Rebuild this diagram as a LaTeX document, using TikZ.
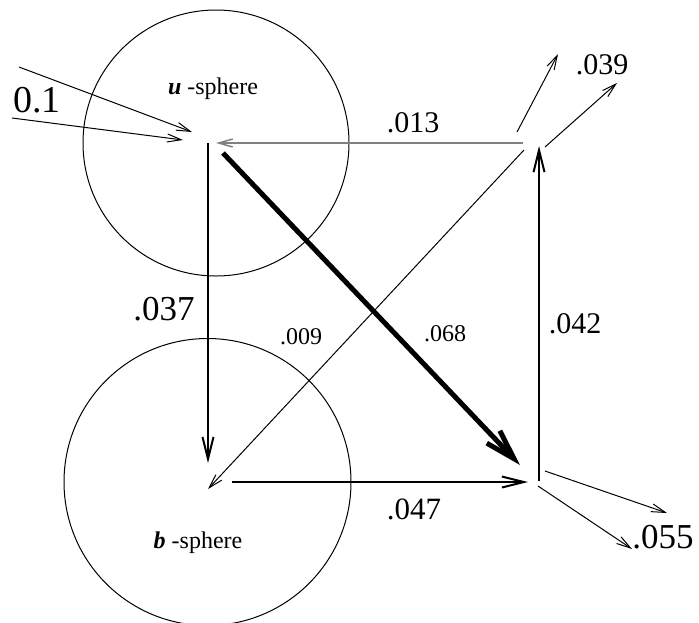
\documentclass[tikz,border=0pt]{standalone}
\usepackage{fontspec}
\setmainfont{Liberation Serif}
\usetikzlibrary{arrows.meta}
\newcommand{\fs}[1]{\fontsize{#1}{#1}\selectfont}
\begin{document}
\begin{tikzpicture}[x=1pt,y=-1pt,
  thinarr/.style={line width=1pt,-{Straight Barb[length=14pt,width=8pt]}},
  medarr/.style={line width=2pt,-{Straight Barb[length=22pt,width=11pt]}},
  thickarr/.style={line width=5pt,-{Straight Barb[length=30pt,width=18pt]}},
  lbl/.style={inner sep=0pt,anchor=center}]
\useasboundingbox (0,0) rectangle (699,622);
% spheres
\draw[line width=1pt] (216,143) circle (133);
\draw[line width=1pt] (207.5,482) circle (143.5);
% points
\coordinate (uS) at (208,143);
\coordinate (uT) at (216,143);
\coordinate (uD) at (223,153);
\coordinate (bT) at (208,463);
\coordinate (bD) at (208,489);
\coordinate (bR) at (232,482);
\coordinate (rtL) at (523,143);
\coordinate (rtD) at (524,150);
\coordinate (rtU) at (539,146);
\coordinate (rtA) at (517,132);
\coordinate (rtB) at (545,147);
\coordinate (rbL) at (528,482);
\coordinate (rbT) at (520,465);
\coordinate (rbS) at (539,481);
\coordinate (rbA) at (545,471);
\coordinate (rbB) at (538,486);
\coordinate (in1s) at (19,67);
\coordinate (in1e) at (192,132);
\coordinate (in2s) at (12,118);
\coordinate (in2e) at (183,140);
\coordinate (o1) at (558,54);
\coordinate (o2) at (617,83);
\coordinate (o3) at (667,513);
\coordinate (o4) at (632,549);
% connectors
\draw[thinarr] (in1s) -- (in1e);
\draw[thinarr] (in2s) -- (in2e);
\draw[thinarr,draw=gray,line width=1.5pt] (rtL) -- (uT);
\draw[medarr] (uS) -- (bT);
\draw[thickarr] (uD) -- (rbT);
\draw[thinarr] (rtD) -- (bD);
\draw[medarr] (bR) -- (rbL);
\draw[medarr] (rbS) -- (rtU);
\draw[thinarr] (rtA) -- (o1);
\draw[thinarr] (rtB) -- (o2);
\draw[thinarr] (rbA) -- (o3);
\draw[thinarr] (rbB) -- (o4);
% labels
\node[lbl] (l01) at (37,100) {\fs{38}0.1};
\node[lbl] (lu) at (213,89) {\fs{24}\textbf{\textit{u}} -sphere};
\node[lbl] (lb) at (198,543) {\fs{24}\textbf{\textit{b}} -sphere};
\node[lbl] (l013) at (413,123) {\fs{30}.013};
\node[lbl] (l039) at (602,65) {\fs{30}.039};
\node[lbl] (l037) at (164,309) {\fs{35}.037};
\node[lbl] (l009) at (301,337) {\fs{24}.009};
\node[lbl] (l068) at (445,334) {\fs{24}.068};
\node[lbl] (l042) at (575,324) {\fs{30}.042};
\node[lbl] (l047) at (414,509) {\fs{31}.047};
\node[lbl] (l055) at (663,537) {\fs{35}.055};
\end{tikzpicture}
\end{document}
